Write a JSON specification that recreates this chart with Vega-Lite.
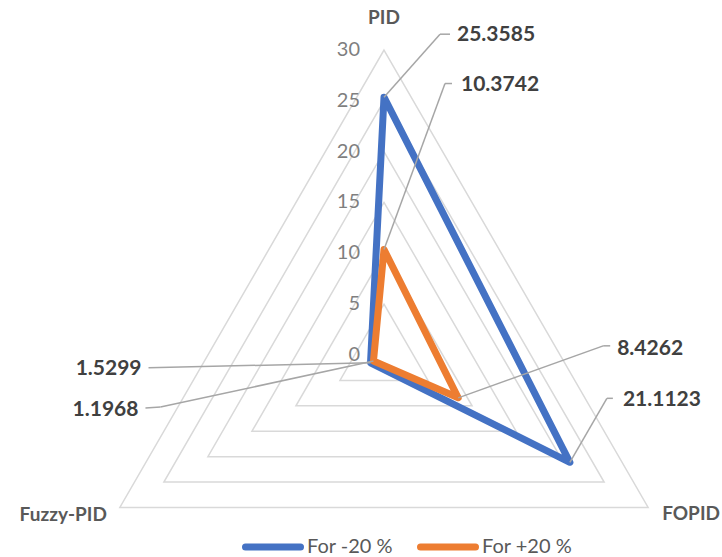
{
  "$schema": "https://vega.github.io/schema/vega-lite/v6.json",
  "width": 722,
  "height": 557,
  "autosize": {"type": "none"},
  "padding": 0,
  "background": "white",
  "config": {
    "view": {"stroke": null},
    "font": "Lato",
    "legend": {
      "orient": "none",
      "legendX": 242,
      "legendY": 516,
      "direction": "horizontal",
      "padding": 0,
      "symbolType": "stroke",
      "symbolSize": 3025,
      "symbolStrokeWidth": 7,
      "labelFont": "Lato",
      "labelFontSize": 20,
      "labelColor": "#595959",
      "labelOffset": 3,
      "columnPadding": 13
    }
  },
  "data": {
    "values": [
      {"kind": "s", "series": "For -20 %", "axis": "PID", "value": 25.3585},
      {"kind": "s", "series": "For -20 %", "axis": "FOPID", "value": 21.1123},
      {"kind": "s", "series": "For -20 %", "axis": "Fuzzy-PID", "value": 1.5299},
      {"kind": "s", "series": "For +20 %", "axis": "PID", "value": 10.3742},
      {"kind": "s", "series": "For +20 %", "axis": "FOPID", "value": 8.4262},
      {"kind": "s", "series": "For +20 %", "axis": "Fuzzy-PID", "value": 1.1968},
      {"kind": "g", "axis": "PID", "value": 5}, {"kind": "g", "axis": "FOPID", "value": 5}, {"kind": "g", "axis": "Fuzzy-PID", "value": 5},
      {"kind": "g", "axis": "PID", "value": 10}, {"kind": "g", "axis": "FOPID", "value": 10}, {"kind": "g", "axis": "Fuzzy-PID", "value": 10},
      {"kind": "g", "axis": "PID", "value": 15}, {"kind": "g", "axis": "FOPID", "value": 15}, {"kind": "g", "axis": "Fuzzy-PID", "value": 15},
      {"kind": "g", "axis": "PID", "value": 20}, {"kind": "g", "axis": "FOPID", "value": 20}, {"kind": "g", "axis": "Fuzzy-PID", "value": 20},
      {"kind": "g", "axis": "PID", "value": 25}, {"kind": "g", "axis": "FOPID", "value": 25}, {"kind": "g", "axis": "Fuzzy-PID", "value": 25},
      {"kind": "g", "axis": "PID", "value": 30}, {"kind": "g", "axis": "FOPID", "value": 30}, {"kind": "g", "axis": "Fuzzy-PID", "value": 30},
      {"kind": "t", "axis": "PID", "value": 0},
      {"kind": "t", "axis": "PID", "value": 5},
      {"kind": "t", "axis": "PID", "value": 10},
      {"kind": "t", "axis": "PID", "value": 15},
      {"kind": "t", "axis": "PID", "value": 20},
      {"kind": "t", "axis": "PID", "value": 25},
      {"kind": "t", "axis": "PID", "value": 30},
      {"kind": "a", "axis": "PID", "value": 30},
      {"kind": "a", "axis": "FOPID", "value": 30},
      {"kind": "a", "axis": "Fuzzy-PID", "value": 30}
    ]
  },
  "transform": [
    {"calculate": "indexof(['PID', 'FOPID', 'Fuzzy-PID'], datum.axis)", "as": "k"},
    {"calculate": "PI / 2 - datum.k * 2 * PI / 3", "as": "ang"},
    {"calculate": "datum.value * cos(datum.ang)", "as": "px"},
    {"calculate": "datum.value * sin(datum.ang)", "as": "py"}
  ],
  "encoding": {
    "x": {"field": "px", "type": "quantitative", "axis": null,
          "scale": {"domain": [-37.770, 33.246], "nice": false, "zero": false}},
    "y": {"field": "py", "type": "quantitative", "axis": null,
          "scale": {"domain": [-19.869, 34.918], "nice": false, "zero": false}}
  },
  "layer": [
    {
      "transform": [{"filter": "datum.kind == 'g'"}],
      "mark": {"type": "line", "interpolate": "linear-closed", "color": "#d9d9d9", "strokeWidth": 1.5},
      "encoding": {
        "detail": {"field": "value", "type": "nominal"},
        "order": {"field": "k", "type": "quantitative"}
      }
    },
    {
      "transform": [{"filter": "datum.kind == 't'"}],
      "mark": {"type": "text", "align": "right", "baseline": "middle", "dx": -24, "fontSize": 20, "color": "#7f7f7f"},
      "encoding": {"text": {"field": "value", "type": "quantitative"}}
    },
    {
      "transform": [{"filter": "datum.kind == 's'"}],
      "mark": {"type": "line", "interpolate": "linear-closed", "strokeWidth": 7, "strokeJoin": "round", "strokeCap": "round"},
      "encoding": {
        "color": {
          "field": "series", "type": "nominal", "title": null,
          "scale": {"domain": ["For -20 %", "For +20 %"], "range": ["#4472c4", "#ed7d31"]},
          "legend": {"encode": {"symbols": {"update": {"strokeCap": {"value": "round"}}}}}
        },
        "order": {"field": "k", "type": "quantitative"}
      }
    },
    {
      "transform": [{"filter": "datum.kind == 'a' && datum.axis == 'PID'"}],
      "mark": {"type": "text", "align": "center", "baseline": "middle", "dy": -32, "fontSize": 19, "fontWeight": "bold", "color": "#595959"},
      "encoding": {"text": {"field": "axis"}}
    },
    {
      "transform": [{"filter": "datum.kind == 'a' && datum.axis == 'FOPID'"}],
      "mark": {"type": "text", "align": "left", "baseline": "middle", "dx": 14, "dy": 7, "fontSize": 19, "fontWeight": "bold", "color": "#595959"},
      "encoding": {"text": {"field": "axis"}}
    },
    {
      "transform": [{"filter": "datum.kind == 'a' && datum.axis == 'Fuzzy-PID'"}],
      "mark": {"type": "text", "align": "right", "baseline": "middle", "dx": -13, "dy": 8, "fontSize": 19, "fontWeight": "bold", "color": "#595959"},
      "encoding": {"text": {"field": "axis"}}
    },
    {
      "transform": [{"filter": "datum.kind == 's' && datum.series == 'For -20 %' && datum.axis == 'PID'"}],
      "layer": [
        {"mark": {"type": "rule", "color": "#a6a6a6", "strokeWidth": 1.5, "x2Offset": 56, "y2Offset": -63},
         "encoding": {"x2": {"field": "px"}, "y2": {"field": "py"}}},
        {"mark": {"type": "rule", "color": "#a6a6a6", "strokeWidth": 1.5, "xOffset": 56, "yOffset": -63, "x2Offset": 66, "y2Offset": -63},
         "encoding": {"x2": {"field": "px"}, "y2": {"field": "py"}}},
        {"mark": {"type": "text", "align": "left", "baseline": "middle", "dx": 73, "dy": -62, "fontSize": 21, "fontWeight": "bold", "color": "#404040"},
         "encoding": {"text": {"field": "value", "type": "quantitative", "format": ".4f"}}}
      ]
    },
    {
      "transform": [{"filter": "datum.kind == 's' && datum.series == 'For +20 %' && datum.axis == 'PID'"}],
      "layer": [
        {"mark": {"type": "rule", "color": "#a6a6a6", "strokeWidth": 1.5, "x2Offset": 61, "y2Offset": -166},
         "encoding": {"x2": {"field": "px"}, "y2": {"field": "py"}}},
        {"mark": {"type": "rule", "color": "#a6a6a6", "strokeWidth": 1.5, "xOffset": 61, "yOffset": -166, "x2Offset": 68, "y2Offset": -166},
         "encoding": {"x2": {"field": "px"}, "y2": {"field": "py"}}},
        {"mark": {"type": "text", "align": "left", "baseline": "middle", "dx": 77, "dy": -165, "fontSize": 21, "fontWeight": "bold", "color": "#404040"},
         "encoding": {"text": {"field": "value", "type": "quantitative", "format": ".4f"}}}
      ]
    },
    {
      "transform": [{"filter": "datum.kind == 's' && datum.series == 'For +20 %' && datum.axis == 'FOPID'"}],
      "layer": [
        {"mark": {"type": "rule", "color": "#a6a6a6", "strokeWidth": 1.5, "x2Offset": 145, "y2Offset": -52},
         "encoding": {"x2": {"field": "px"}, "y2": {"field": "py"}}},
        {"mark": {"type": "rule", "color": "#a6a6a6", "strokeWidth": 1.5, "xOffset": 145, "yOffset": -52, "x2Offset": 152, "y2Offset": -52},
         "encoding": {"x2": {"field": "px"}, "y2": {"field": "py"}}},
        {"mark": {"type": "text", "align": "left", "baseline": "middle", "dx": 159, "dy": -49, "fontSize": 21, "fontWeight": "bold", "color": "#404040"},
         "encoding": {"text": {"field": "value", "type": "quantitative", "format": ".4f"}}}
      ]
    },
    {
      "transform": [{"filter": "datum.kind == 's' && datum.series == 'For -20 %' && datum.axis == 'FOPID'"}],
      "layer": [
        {"mark": {"type": "rule", "color": "#a6a6a6", "strokeWidth": 1.5, "x2Offset": 37, "y2Offset": -64},
         "encoding": {"x2": {"field": "px"}, "y2": {"field": "py"}}},
        {"mark": {"type": "rule", "color": "#a6a6a6", "strokeWidth": 1.5, "xOffset": 37, "yOffset": -64, "x2Offset": 43, "y2Offset": -64},
         "encoding": {"x2": {"field": "px"}, "y2": {"field": "py"}}},
        {"mark": {"type": "text", "align": "left", "baseline": "middle", "dx": 53, "dy": -62, "fontSize": 21, "fontWeight": "bold", "color": "#404040"},
         "encoding": {"text": {"field": "value", "type": "quantitative", "format": ".4f"}}}
      ]
    },
    {
      "transform": [{"filter": "datum.kind == 's' && datum.series == 'For -20 %' && datum.axis == 'Fuzzy-PID'"}],
      "layer": [
        {"mark": {"type": "rule", "color": "#a6a6a6", "strokeWidth": 1.5, "x2Offset": -222, "y2Offset": 5},
         "encoding": {"x2": {"field": "px"}, "y2": {"field": "py"}}},
        {"mark": {"type": "text", "align": "right", "baseline": "middle", "dx": -229, "dy": 6, "fontSize": 21, "fontWeight": "bold", "color": "#404040"},
         "encoding": {"text": {"field": "value", "type": "quantitative", "format": ".4f"}}}
      ]
    },
    {
      "transform": [{"filter": "datum.kind == 's' && datum.series == 'For +20 %' && datum.axis == 'Fuzzy-PID'"}],
      "layer": [
        {"mark": {"type": "rule", "color": "#a6a6a6", "strokeWidth": 1.5, "x2Offset": -213, "y2Offset": 46},
         "encoding": {"x2": {"field": "px"}, "y2": {"field": "py"}}},
        {"mark": {"type": "rule", "color": "#a6a6a6", "strokeWidth": 1.5, "xOffset": -213, "yOffset": 46, "x2Offset": -228, "y2Offset": 47},
         "encoding": {"x2": {"field": "px"}, "y2": {"field": "py"}}},
        {"mark": {"type": "text", "align": "right", "baseline": "middle", "dx": -235, "dy": 49, "fontSize": 21, "fontWeight": "bold", "color": "#404040"},
         "encoding": {"text": {"field": "value", "type": "quantitative", "format": ".4f"}}}
      ]
    }
  ]
}
